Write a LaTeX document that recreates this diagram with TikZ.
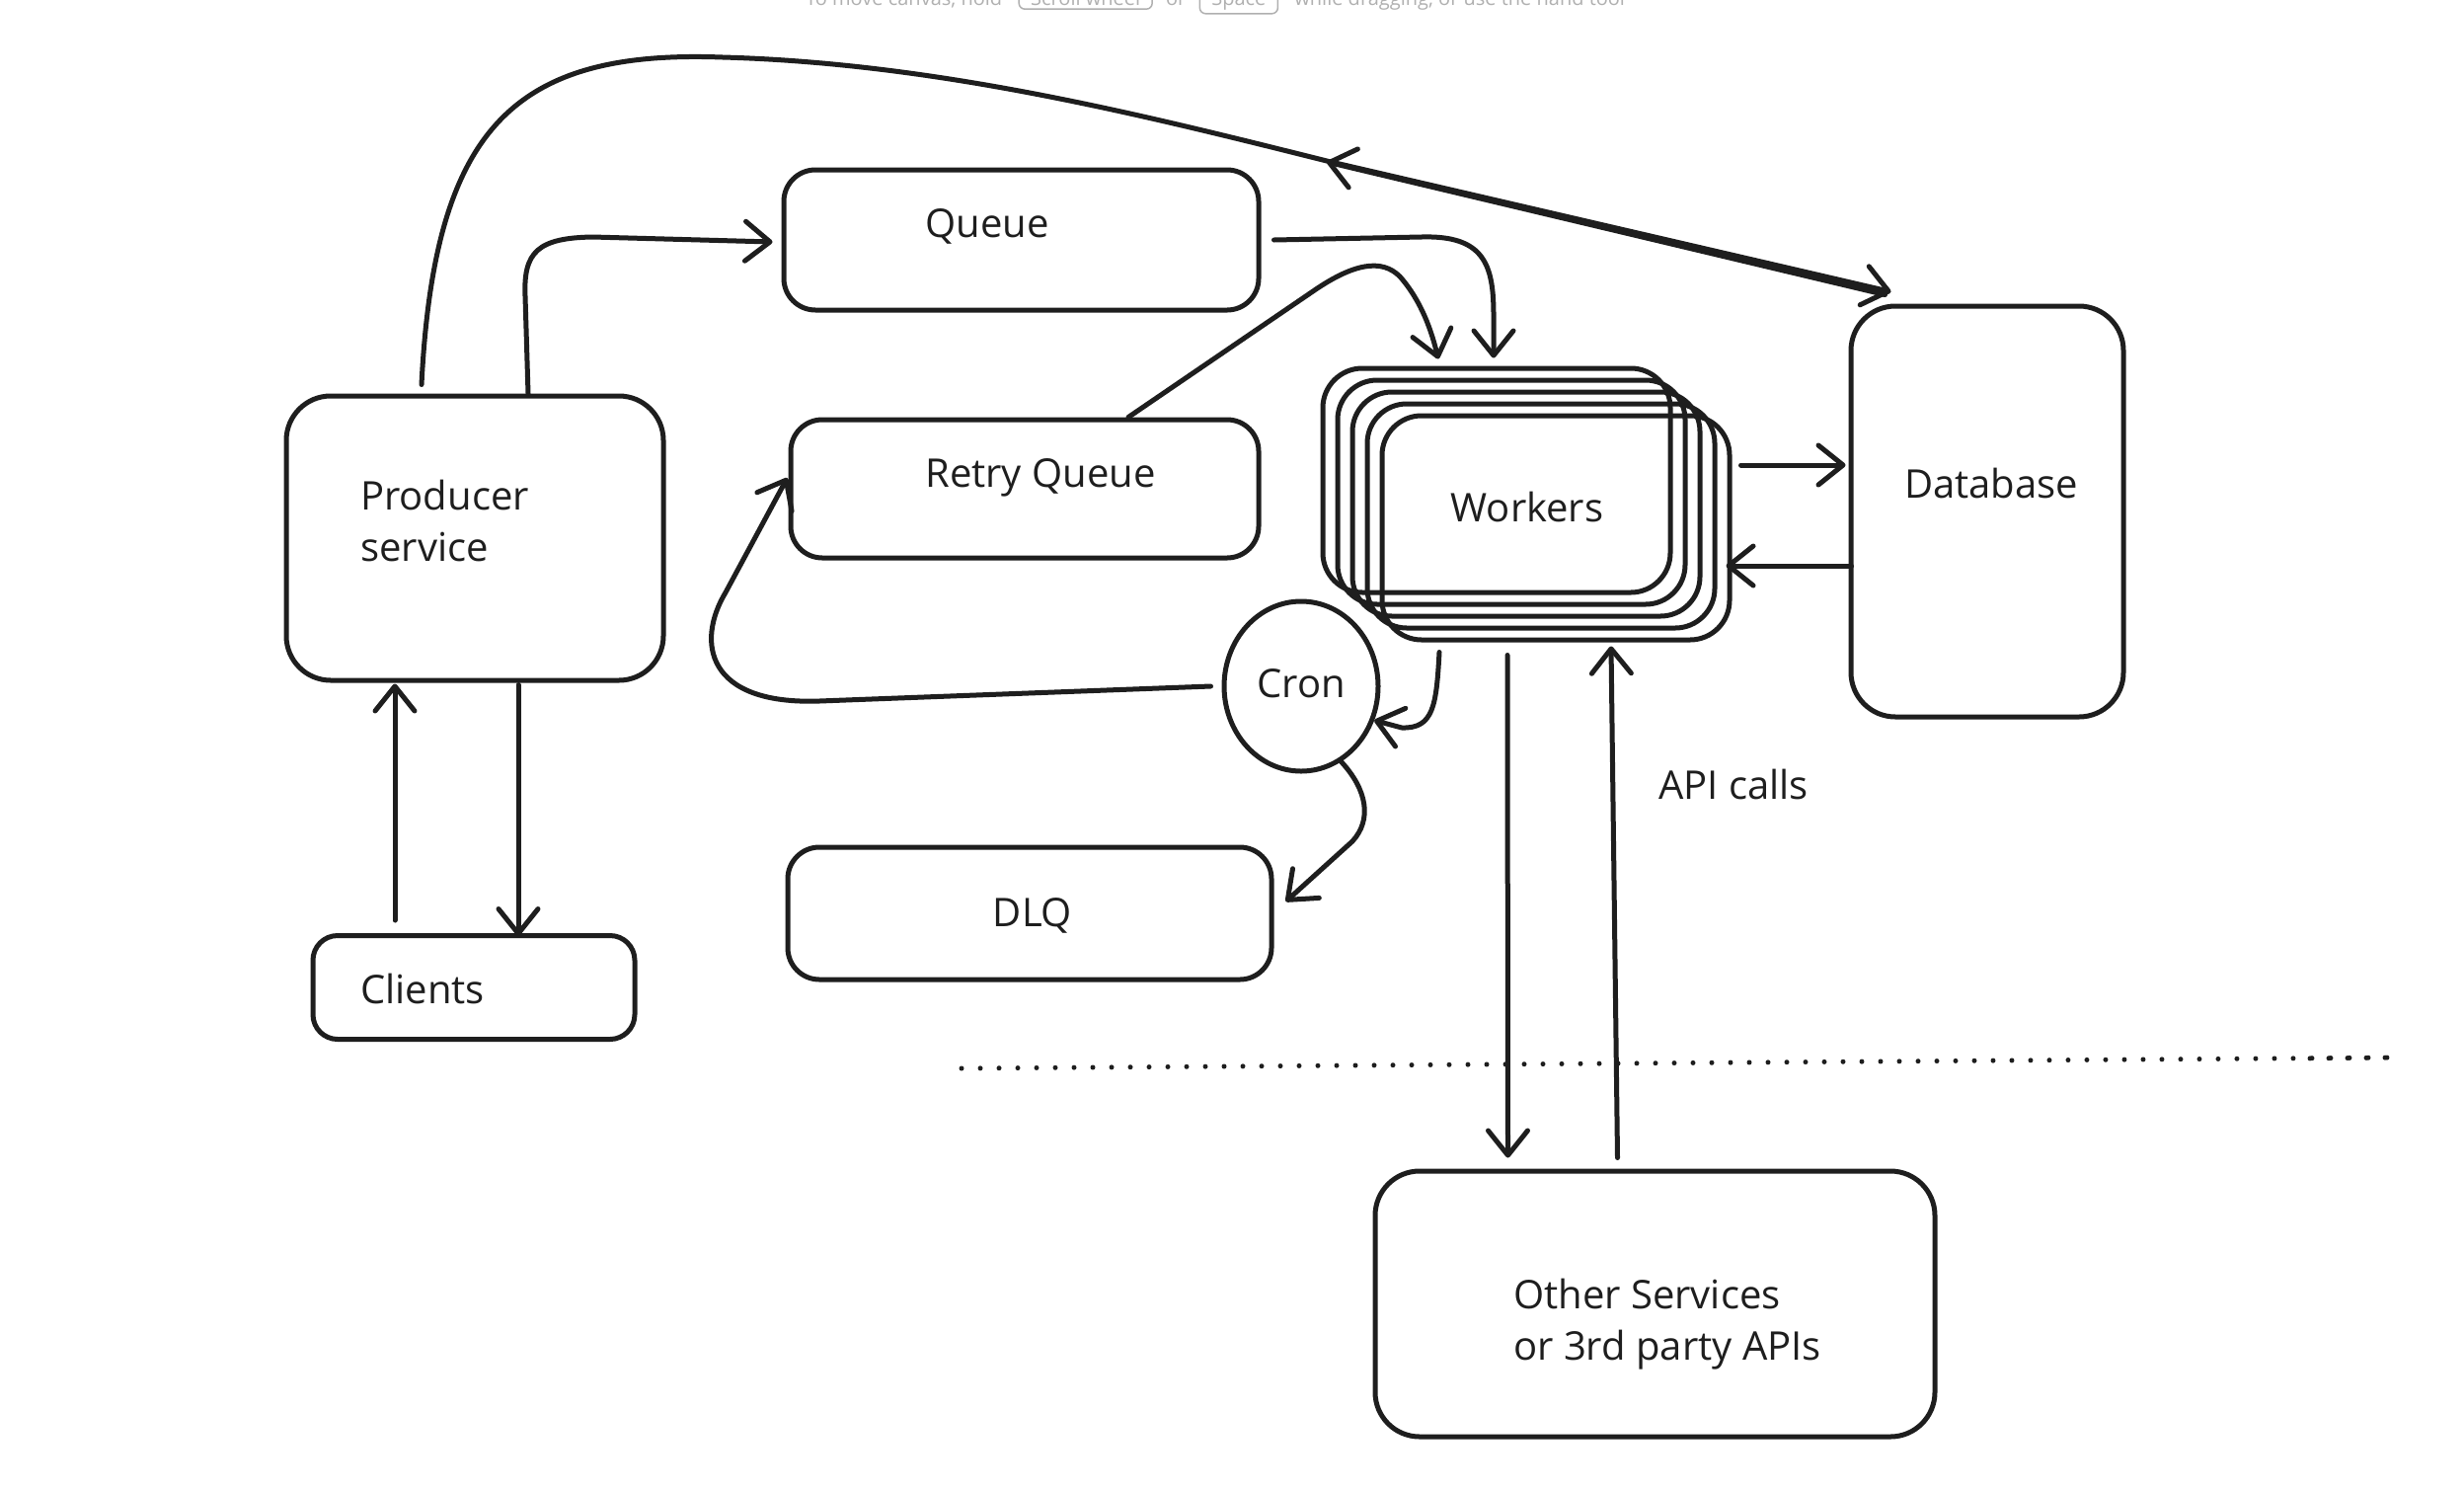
\documentclass[tikz,border=0pt]{standalone}
\usepackage{fontspec}
\setmainfont{Open Sans}
\usetikzlibrary{arrows.meta,shapes.geometric}
\definecolor{ink}{HTML}{1E1E1E}
\definecolor{hintgray}{HTML}{B0B0B0}
\begin{document}
\begin{tikzpicture}[x=1pt,y=-1pt,
  box/.style={draw=ink, line width=5pt, rounded corners=#1, inner sep=0pt},
  box/.default=40pt,
  txt/.style={text=ink, font=\fontsize{40}{52}\selectfont, inner sep=0pt},
  conn/.style={draw=ink, line width=5pt, line cap=round, line join=round, -{Straight Barb[length=25pt,width=40pt,round]}},
  dotline/.style={draw=ink, line width=5pt, line cap=round, dash pattern=on 0pt off 19pt},
  hint/.style={text=hintgray, font=\fontsize{20}{24}\selectfont, inner sep=0pt},
  keybox/.style={draw=hintgray, line width=1.5pt, rounded corners=6pt, text=hintgray, font=\fontsize{20}{24}\selectfont, inner xsep=12pt, inner ysep=4pt}
]
\fill[white] (0,0) rectangle (2496,1508);
\useasboundingbox (0,0) rectangle (2496,1508);

% faint canvas hint (cut off at the top, as in the reference)
\node[hint, anchor=base west] (hintA) at (816,5) {To move canvas, hold};
\node[keybox, anchor=base west] (keyA) at ([xshift=16pt]hintA.base east) {Scroll wheel};
\node[hint, anchor=base west] (hintB) at ([xshift=13pt]keyA.base east) {or};
\node[keybox, anchor=base west] (keyB) at ([xshift=13pt]hintB.base east) {Space};
\node[hint, anchor=base west] (hintC) at ([xshift=16pt]keyB.base east) {while dragging, or use the hand tool};

% boxes
\node[box=45pt, minimum width=382pt, minimum height=288pt] (prod) at (481,545) {};
\node[txt, anchor=west, align=left] (prodt) at (365,527) {Producer\\service};

\node[box=25pt, minimum width=326pt, minimum height=105pt] (cli) at (480,1000) {};
\node[txt, anchor=west] (clit) at (365,1001) {Clients};

\node[box=32pt, minimum width=481pt, minimum height=142pt] (queue) at (1034.5,243) {};
\node[txt] (queuet) at (1000,229) {Queue};

\node[box=32pt, minimum width=474pt, minimum height=140pt] (retry) at (1038,495) {};
\node[txt] (retryt) at (1054,484) {Retry Queue};

\node[box=32pt, minimum width=490pt, minimum height=134pt] (dlq) at (1043,925) {};
\node[txt] (dlqt) at (1046,927) {DLQ};

\node[box=45pt, minimum width=276pt, minimum height=416pt] (db) at (2013,518) {};
\node[txt] (dbt) at (2017,489) {Database};

\node[box=45pt, minimum width=567pt, minimum height=269pt] (other) at (1676.5,1320.5) {};
\node[txt, anchor=west, align=left] (othert) at (1533,1341) {Other Services\\or 3rd party APIs};

\node[ellipse, draw=ink, line width=5pt, minimum width=156pt, minimum height=172pt, inner sep=0pt] (cron) at (1318,695) {};
\node[txt] (cront) at (1318,692) {Cron};

% workers stack
\node[box, minimum width=352pt, minimum height=227pt] (w0) at (1516,486.5) {};
\node[box, minimum width=352pt, minimum height=227pt] (w1) at (1531,498.5) {};
\node[box, minimum width=352pt, minimum height=227pt] (w2) at (1546,510.5) {};
\node[box, minimum width=352pt, minimum height=227pt] (w3) at (1561,522.5) {};
\node[box, minimum width=352pt, minimum height=227pt] (w4) at (1576,534.5) {};
\node[txt] (workers) at (1547,513) {Workers};

\node[txt, anchor=west] (api) at (1680,794) {API calls};

% connectors
\draw[conn] ([xshift=54pt]prod.north) -- (532,300) .. controls (530,255) and (545,241) .. (600,240) -- ([xshift=-9pt,yshift=-2pt]queue.west);

\coordinate (arcmark) at (1344,163);
\draw[conn] ([xshift=-54pt,yshift=9pt]prod.north) .. controls (440,130) and (520,50) .. (732,58) .. controls (950,64) and (1160,117) .. (arcmark) -- ([xshift=43pt,yshift=12pt]db.north west);
\draw[conn] ([xshift=37pt,yshift=9pt]db.north west) -- ([yshift=-1pt]arcmark);

\draw[conn] ([xshift=13pt]queue.east) -- (1440,240) .. controls (1505,238) and (1513,270) .. (1513,320) -- ([xshift=-3pt,yshift=8pt]w0.north);

\draw[conn] ([xshift=105pt]retry.north) -- (1330,295) .. controls (1372,266) and (1400,262) .. (1418,280) .. controls (1440,305) and (1450,335) .. ([xshift=-59pt,yshift=7pt]w0.north);

\draw[conn] ([xshift=9pt,yshift=63.5pt]w4.east) -- ([xshift=-3pt,yshift=47pt]db.west);
\draw[conn] ([xshift=3pt,yshift=-55pt]db.west) -- ([xshift=-6pt,yshift=-38.5pt]w4.east);

\draw[conn] ([xshift=-118pt,yshift=-10pt]w4.south) .. controls (1455,715) and (1452,738) .. (1420,737) -- (cron.-25);

\draw[conn] ([xshift=-11pt]cron.west) -- (830,710) .. controls (715,714) and (705,650) .. (735,600) -- ([xshift=-1pt,yshift=11pt]retry.west);

\draw[conn] (cron.-62) .. controls (1385,800) and (1390,830) .. (1370,852) -- ([xshift=12pt,yshift=12pt]dlq.east);

\draw[conn] ([xshift=-80pt,yshift=13pt]cli.north) -- ([xshift=-81pt,yshift=-1pt]prod.south);
\draw[conn] ([xshift=44pt,yshift=-2pt]prod.south) -- ([xshift=45pt,yshift=-3pt]cli.north);

\draw[conn] ([xshift=-49pt,yshift=-13pt]w4.south) -- ([xshift=-149pt,yshift=11pt]other.north);
\draw[conn] ([xshift=-38pt,yshift=11pt]other.north) -- ([xshift=56pt,yshift=-4pt]w4.south);

% boundary
\draw[dotline] (974,1082) -- (2428,1071);
\draw[dotline, dash phase=9pt] (2330,1072) -- (2428,1071);
\end{tikzpicture}
\end{document}
